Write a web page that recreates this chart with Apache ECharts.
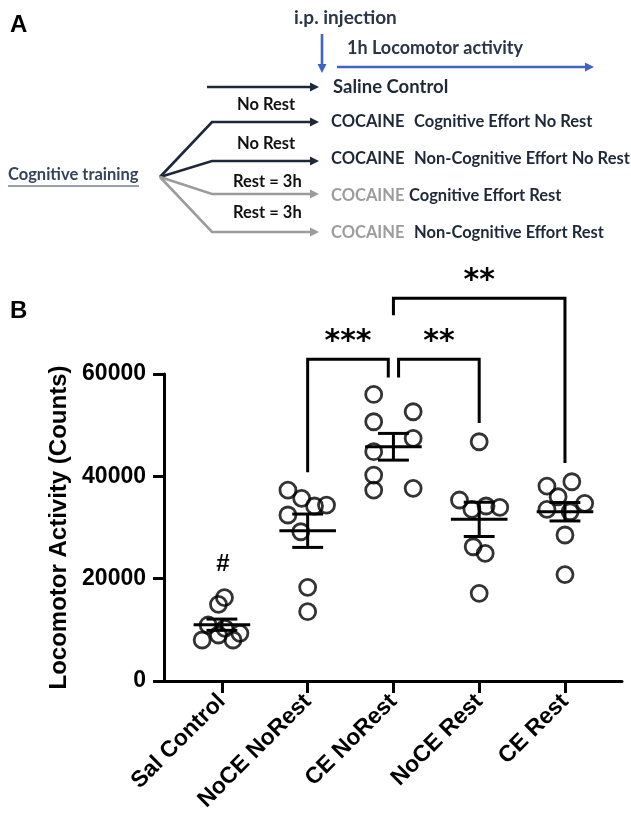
<!DOCTYPE html>
<html><head><meta charset="utf-8">
<script src="https://cdn.jsdelivr.net/npm/echarts@6/dist/echarts.min.js"></script>
<style>html,body{margin:0;padding:0;background:#fff}#c{width:631px;height:821px}</style>
</head><body><div id="c"></div>
<script>
// ---------- data ----------
const categories = ['Sal Control', 'NoCE NoRest', 'CE NoRest', 'NoCE Rest', 'CE Rest'];
const salControl = [16280, 14990, 8010, 10940, 8990, 10300, 8010, 9320];
const noceNoRest = [37320, 35700, 34200, 34390, 32440, 29170, 18310, 13540];
const ceNoRest   = [56000, 52620, 50670, 47420, 44810, 40250, 37320, 37650];
const noceRest   = [46760, 35370, 33550, 34200, 33940, 26240, 24950, 17140];
const ceRest     = [38100, 38940, 36010, 33550, 34720, 33080, 28530, 20800];
const groupMeans = [11000, 29370, 45780, 31590, 33080];
const groupSems  = [1100, 3260, 2610, 3350, 1800];
const yTickValues = [0, 20000, 40000, 60000];
const sigLabels = ['***', '**', '**'];

const groups = [salControl, noceNoRest, ceNoRest, noceRest, ceRest];
// horizontal scatter offsets (category units) as drawn in the figure
const jitter = [
  [0.03, -0.04, -0.23, -0.16, -0.04, 0.035, 0.13, 0.21],
  [-0.23, -0.07, 0.08, 0.22, -0.23, -0.08, 0, 0],
  [-0.23, 0.23, -0.23, 0.23, -0.23, -0.23, -0.23, 0.23],
  [0, -0.23, -0.085, 0.08, 0.24, -0.07, 0.07, 0],
  [-0.21, 0.08, -0.08, -0.21, 0.23, 0.06, 0, 0]
];
// comparison brackets: [leftX, leftBottom, rightX, rightBottom, top]
const bracketGeom = [
  [1, 40800, 1.94, 59300, 62900],
  [2.06, 59300, 3, 50400, 62900],
  [2, 71500, 4, 42600, 74800]
];

const pts = [];
groups.forEach((g, gi) => g.forEach((v, i) => pts.push([gi + jitter[gi][i], v])));

// ---------- panel A helpers ----------
const DARK = '#1f2838', GRAY = '#9c9c9c', BLUE = '#3f63c6';
const FONT_A = 'Lato';
function arrow(points, color) {
  const n = points.length;
  const [x1, y1] = points[n - 2], [x2, y2] = points[n - 1];
  const a = Math.atan2(y2 - y1, x2 - x1), L = 9, W = 4.5;
  const bx = x2 - L * Math.cos(a), by = y2 - L * Math.sin(a);
  const px = -Math.sin(a) * W, py = Math.cos(a) * W;
  const line = points.slice(0, n - 1).concat([[bx, by]]);
  return [
    {type: 'polyline', shape: {points: line}, style: {stroke: color, lineWidth: 2.6, fill: null}},
    {type: 'polygon', shape: {points: [[x2, y2], [bx + px, by + py], [bx - px, by - py]]}, style: {fill: color}}
  ];
}
function txt(s, x, y, size, color, weight) {
  return {type: 'text', x: x, y: y, style: {text: s, fontFamily: FONT_A, fontSize: size,
    fontWeight: weight || 'bold', fill: color, align: 'left', verticalAlign: 'middle'}};
}
const graphics = [].concat(
  [{type: 'text', x: 10, y: 25, style: {text: 'A', fontFamily: 'Liberation Sans', fontSize: 24, fontWeight: 'bold', fill: '#000', verticalAlign: 'middle'}}],
  [{type: 'text', x: 10, y: 311, style: {text: 'B', fontFamily: 'Liberation Sans', fontSize: 24, fontWeight: 'bold', fill: '#000', verticalAlign: 'middle'}}],
  [txt('i.p. injection', 294, 18, 19, '#2a3547')],
  arrow([[322, 34], [322, 73]], BLUE),
  [txt('1h Locomotor activity', 347, 48, 18, '#2a3547')],
  arrow([[337, 67], [594, 67]], BLUE),
  arrow([[207, 87], [319, 87]], DARK),
  [txt('Saline Control', 333, 87, 18.5, DARK)],
  [txt('No Rest', 237, 105, 16.5, '#111')],
  arrow([[160, 177], [212, 122], [319, 122]], DARK),
  [txt('COCAINE', 331, 122, 16.5, DARK), txt('Cognitive Effort No Rest', 414, 122, 16.5, DARK)],
  [txt('No Rest', 237, 144, 16.5, '#111')],
  arrow([[160, 177], [212, 161], [319, 161]], DARK),
  [txt('COCAINE', 331, 159, 16.5, DARK), txt('Non-Cognitive Effort No Rest', 414, 159, 16.5, DARK)],
  [txt('Cognitive training', 8, 175, 16.5, '#34445a'),
   {type: 'line', shape: {x1: 8, y1: 186, x2: 139, y2: 186}, style: {stroke: '#34445a', lineWidth: 1.2}}],
  [txt('Rest = 3h', 233, 182, 16.5, '#111')],
  arrow([[160, 177], [212, 194], [319, 194]], GRAY),
  [txt('COCAINE', 331, 196, 16.5, GRAY), txt('Cognitive Effort Rest', 409, 196, 16.5, DARK)],
  [txt('Rest = 3h', 233, 213, 16.5, '#111')],
  arrow([[160, 177], [212, 232], [319, 232]], GRAY),
  [txt('COCAINE', 331, 233, 16.5, GRAY), txt('Non-Cognitive Effort Rest', 414, 233, 16.5, DARK)]
);

const chart = echarts.init(document.getElementById('c'), null, {renderer: 'canvas'});
chart.setOption({
  animation: false,
  backgroundColor: '#fff',
  grid: {left: 164, right: 9, top: 374, bottom: 140, containLabel: false},
  xAxis: {
    type: 'value', min: -0.675, max: 4.665,
    axisLine: {show: true, onZero: false, lineStyle: {color: '#000', width: 3}},
    axisTick: {show: true, customValues: [0, 1, 2, 3, 4], length: 12, lineStyle: {color: '#000', width: 3}},
    axisLabel: {customValues: [0, 1, 2, 3, 4], formatter: v => categories[Math.round(v)] || '',
      rotate: 45, margin: 17, fontFamily: 'Liberation Sans', fontSize: 23, fontWeight: 'bold', color: '#000'},
    splitLine: {show: false}
  },
  yAxis: {
    type: 'value', min: 0, max: 60000, interval: 20000,
    name: 'Locomotor Activity (Counts)', nameLocation: 'middle', nameGap: 92,
    nameTextStyle: {fontFamily: 'Liberation Sans', fontSize: 24, fontWeight: 'bold', color: '#000'},
    axisLine: {show: true, onZero: false, lineStyle: {color: '#000', width: 3}},
    axisTick: {show: true, length: 11, lineStyle: {color: '#000', width: 3}},
    axisLabel: {margin: 18, fontFamily: 'Liberation Sans', fontSize: 23, fontWeight: 'bold', color: '#000',
      formatter: v => yTickValues.includes(v) ? String(v) : ''},
    splitLine: {show: false}
  },
  graphic: graphics,
  series: [
    {
      type: 'scatter', data: pts, symbol: 'circle', symbolSize: 16,
      itemStyle: {color: 'rgba(0,0,0,0)', borderColor: '#000', borderWidth: 2.8},
      z: 3
    },
    {
      type: 'custom', z: 4,
      data: groupMeans.map((m, i) => [i, m, groupSems[i]]),
      renderItem: function (params, api) {
        const x = api.value(0), m = api.value(1), s = api.value(2);
        const pm = api.coord([x, m]), pu = api.coord([x, m + s]), pl = api.coord([x, m - s]);
        const hw = api.size([0.33, 0])[0], cw = api.size([0.18, 0])[0];
        const st = {stroke: '#000', lineWidth: 3, fill: null};
        return {type: 'group', children: [
          {type: 'line', shape: {x1: pm[0] - hw, y1: pm[1], x2: pm[0] + hw, y2: pm[1]}, style: st},
          {type: 'line', shape: {x1: pu[0], y1: pu[1], x2: pl[0], y2: pl[1]}, style: st},
          {type: 'line', shape: {x1: pu[0] - cw, y1: pu[1], x2: pu[0] + cw, y2: pu[1]}, style: st},
          {type: 'line', shape: {x1: pl[0] - cw, y1: pl[1], x2: pl[0] + cw, y2: pl[1]}, style: st}
        ]};
      }
    },
    {
      type: 'custom', z: 5, clip: false,
      data: bracketGeom.map((b, i) => [b[0], b[1], b[2], b[3], b[4]]),
      renderItem: function (params, api) {
        const b = bracketGeom[params.dataIndex];
        const p1b = api.coord([b[0], b[1]]), p1t = api.coord([b[0], b[4]]);
        const p2t = api.coord([b[2], b[4]]), p2b = api.coord([b[2], b[3]]);
        return {type: 'group', children: [
          {type: 'polyline', shape: {points: [p1b, p1t, p2t, p2b]}, style: {stroke: '#000', lineWidth: 3, fill: null}},
          {type: 'text', x: (p1t[0] + p2t[0]) / 2, y: p1t[1] - 17, style: {text: sigLabels[params.dataIndex],
            fontFamily: 'DejaVu Sans', fontWeight: 'bold', fontSize: 30, fill: '#000', align: 'center', verticalAlign: 'middle'}}
        ]};
      }
    },
    {
      type: 'custom', z: 5, clip: false,
      data: [[0, groups[0].reduce((a, b) => Math.max(a, b))]],
      renderItem: function (params, api) {
        const p = api.coord([api.value(0), api.value(1)]);
        return {type: 'text', x: p[0] + 1, y: p[1] - 33, style: {text: '#', fontFamily: 'Liberation Sans',
          fontWeight: 'bold', fontSize: 24, fill: '#000', align: 'center', verticalAlign: 'middle'}};
      }
    }
  ]
});
</script>
</body></html>
